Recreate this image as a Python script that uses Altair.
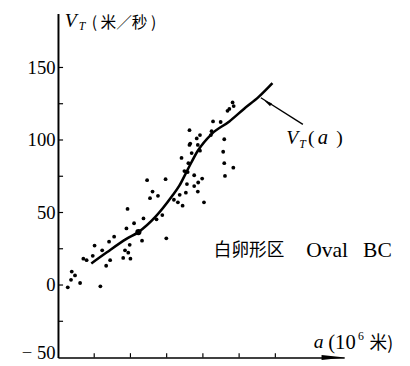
import altair as alt
import pandas as pd

# ---- data ----
pts_x = [0.27, 0.36, 0.38, 0.47, 0.61, 1.17, 0.70, 0.79, 0.96, 1.01, 1.22, 1.33, 1.44, 1.41, 1.55,
         1.80, 2.00, 1.85, 1.94, 1.98, 1.89, 1.92, 2.10, 2.32, 2.36, 2.72, 2.88, 2.99, 2.46, 2.54,
         2.61, 2.76, 2.97, 3.20, 3.31, 3.36, 3.44, 3.53, 3.56, 3.49, 3.58, 3.60, 3.41, 3.63, 3.69,
         3.76, 3.76, 3.86, 3.86, 3.87, 3.92, 3.98, 4.03, 3.63, 3.83, 3.92, 4.22, 4.24, 4.28, 4.49,
         4.59, 4.56, 4.59, 4.84, 4.61, 4.82, 4.85, 4.73, 4.68, 3.65]
pts_y = [-1.6, 3.6, 9.3, 6.6, 1.4, -0.9, 18.2, 17.1, 20.1, 27.2, 23.9, 13.3, 17.1, 29.9, 33.3,
         18.7, 18.2, 23.9, 22.3, 27.7, 39.0, 52.5, 42.6, 30.6, 45.9, 45.3, 48.2, 32.2, 72.3, 59.9,
         64.4, 61.5, 73.0, 58.8, 57.0, 62.2, 54.7, 63.7, 69.6, 78.6, 77.9, 84.0, 87.6, 96.6, 91.0,
         68.2, 75.7, 96.6, 64.4, 70.7, 92.6, 73.4, 57.0, 106.8, 101.1, 103.4, 103.4, 106.1, 112.8, 112.4,
         100.5, 91.9, 84.0, 80.9, 75.2, 125.9, 123.4, 121.4, 120.1, 97.5]

curve_x = [0.92, 1.35, 1.89, 2.22, 2.70, 3.14, 3.35, 3.57, 3.86, 4.24, 4.73, 5.14, 5.54, 5.92]
curve_y = [14.9, 22.6, 31.8, 36.5, 47.3, 61.0, 68.5, 79.1, 92.6, 104.1, 112.8, 121.6, 129.7, 139.2]

y_label_values = [-50, 0, 50, 100, 150]
y_minor_ticks = [-25, 0, 25, 50, 75, 100, 125, 150]
x_ticks = [1, 2, 3, 4, 5, 6]

X_DOMAIN = [0, 7.9]
Y_DOMAIN = [-50, 187.2]

SERIF = "Liberation Serif"
CJK = "Noto Sans CJK SC"

xs = alt.Scale(domain=X_DOMAIN, nice=False, zero=False)
ys = alt.Scale(domain=Y_DOMAIN, nice=False, zero=False)

x_axis = alt.Axis(labels=False, ticks=False, grid=False, title=None,
                  domainColor="black", domainWidth=1.5)
y_axis = alt.Axis(values=y_label_values, ticks=False, grid=False, title=None,
                  domainColor="black", domainWidth=2, labelFont=SERIF,
                  labelFontSize=19, labelColor="black", labelPadding=3,
                  labelOffset={"condition": {"test": "datum.value < 0", "value": -5}, "value": 0},
                  labelExpr="datum.value < 0 ? '\u2212 ' + abs(datum.value) : datum.label")


def X(field="x"):
    return alt.X(f"{field}:Q", scale=xs, axis=x_axis)


def Y(field="y"):
    return alt.Y(f"{field}:Q", scale=ys, axis=y_axis)


pts = pd.DataFrame({"x": pts_x, "y": pts_y})
curve = pd.DataFrame({"x": curve_x, "y": curve_y})

scatter = alt.Chart(pts).mark_circle(size=15, color="black", opacity=1).encode(x=X(), y=Y())
line = alt.Chart(curve).mark_line(color="black", strokeWidth=2.6, interpolate="monotone").encode(
    x=X(), y=Y())
bigdot = alt.Chart(pd.DataFrame({"x": [2.22], "y": [36.5]})).mark_circle(
    size=40, color="black", opacity=1).encode(x=X(), y=Y())

# inward tick marks
ytick_df = pd.DataFrame({"y": y_minor_ticks, "x": [0] * len(y_minor_ticks),
                         "x2": [0.14] * len(y_minor_ticks)})
yticks = alt.Chart(ytick_df).mark_rule(color="black", strokeWidth=1.2).encode(
    x=X(), x2="x2:Q", y=Y())
xtick_df = pd.DataFrame({"x": x_ticks, "y": [-50] * len(x_ticks), "y2": [-47.0] * len(x_ticks)})
xticks = alt.Chart(xtick_df).mark_rule(color="black", strokeWidth=1.2).encode(
    x=X(), y=Y(), y2="y2:Q")

# arrow at end of x axis
arrow = alt.Chart(pd.DataFrame({"x": [7.6], "y": [-50]})).mark_point(
    shape="M-1,-0.22L1,0L-1,0.22Z", size=576, filled=True, color="black", opacity=1
).encode(x=X(), y=Y())

# leader line to curve label
leader = alt.Chart(pd.DataFrame({"x": [5.60], "y": [129.1], "x2": [6.76], "y2": [110.8]})).mark_rule(
    color="black", strokeWidth=1.4).encode(x=X(), y=Y(), x2="x2:Q", y2="y2:Q")
leader_head = alt.Chart(pd.DataFrame({"x": [5.79], "y": [125.7]})).mark_point(
    shape="M0,-1L0.45,1L-0.45,1Z", size=60, angle=302, filled=True, color="black", opacity=1
).encode(x=X(), y=Y())


def txt(text, x, y, font, size, style="normal", weight="normal"):
    return alt.Chart(pd.DataFrame({"x": [x], "y": [y], "t": [text]})).mark_text(
        align="left", baseline="alphabetic", font=font, fontSize=size,
        fontStyle=style, fontWeight=weight, color="black"
    ).encode(x=X(), y=Y(), text="t:N")


texts = [
    # y-axis title  V_T(米/秒)
    txt("V", 0.19, 177.8, SERIF, 20, "italic"),
    txt("T", 0.57, 175.8, SERIF, 12, "italic"),
    txt("( 米／秒 )", 0.93, 177.5, CJK, 16),
    # curve label  V_T(a)
    txt("V", 6.30, 97.3, SERIF, 20, "italic"),
    txt("T", 6.66, 94.6, SERIF, 12, "italic"),
    txt("(", 6.90, 97.3, SERIF, 20),
    txt("a", 7.17, 97.3, SERIF, 21, "italic"),
    txt(")", 7.68, 97.3, SERIF, 20),
    # region label
    txt("白卵形区", 4.30, 20.3, CJK, 18),
    txt("Oval", 6.85, 19.6, SERIF, 22),
    txt("BC", 8.42, 19.6, SERIF, 22),
    # x-axis title  a(10^6 米)
    txt("a", 7.06, -43.2, SERIF, 20, "italic"),
    txt("(10", 7.46, -43.9, SERIF, 21),
    txt("6", 8.28, -38.0, SERIF, 12),
    txt("米)", 8.60, -43.9, CJK, 18),
]

chart = alt.layer(scatter, line, bigdot, yticks, xticks, arrow, leader, leader_head, *texts).properties(
    width=292, height=351,
    autosize=alt.AutoSizeParams(type="none"),
    padding={"left": 51, "top": 2, "right": 59, "bottom": 5},
    background="white",
).configure_view(stroke=None)

chart.save("out.html", embed_options={"renderer": "svg", "actions": False})
